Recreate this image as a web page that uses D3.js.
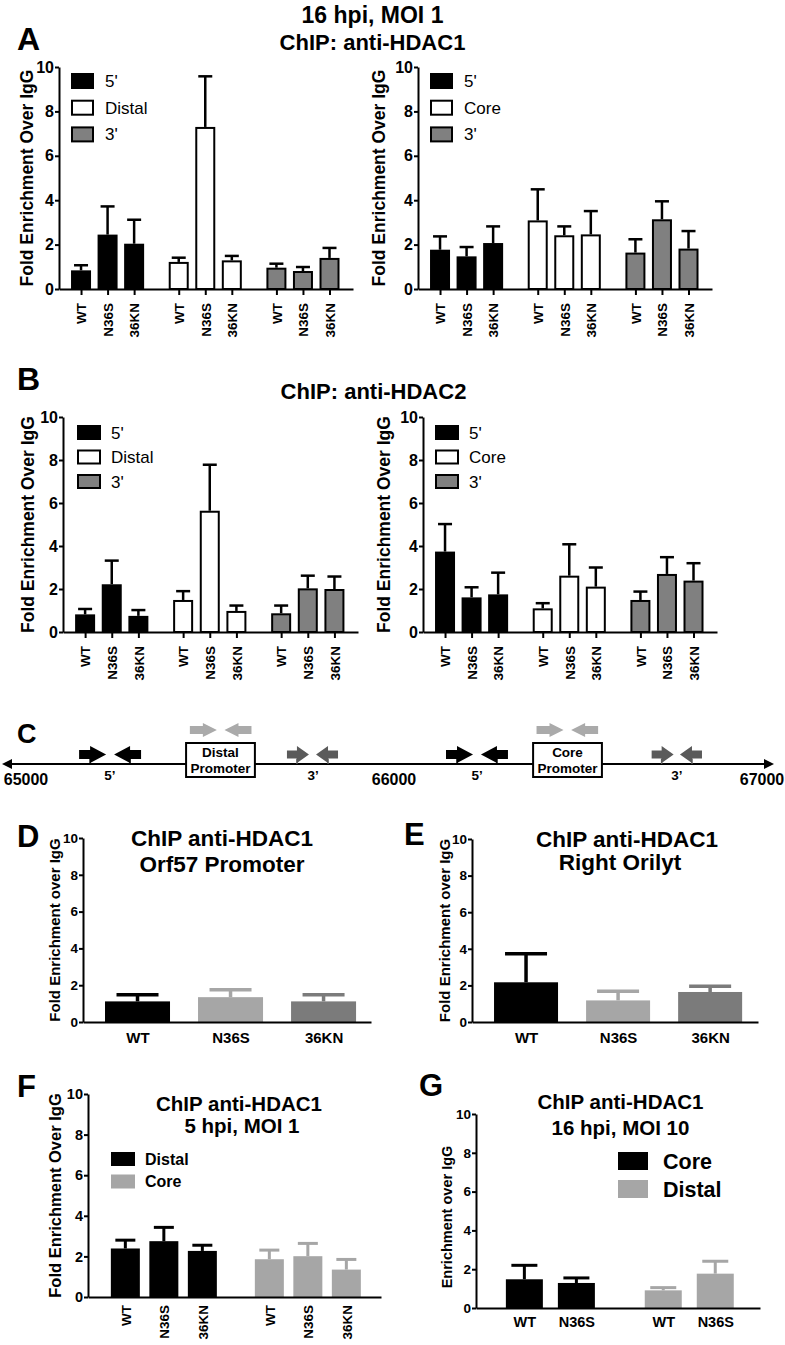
<!DOCTYPE html>
<html><head><meta charset="utf-8">
<script src="https://cdn.jsdelivr.net/npm/d3@7"></script>
<style>
body{margin:0;background:#fff}
svg{display:block;font-family:"Liberation Sans",Arial,Helvetica,sans-serif}
</style></head><body>
<svg id="fig" width="785" height="1345"></svg>
<script>
// ---------------- DATA ----------------
const mutants3 = ["WT", "N36S", "36KN"];
const mutants2 = ["WT", "N36S"];
const yTicks = [0, 2, 4, 6, 8, 10];

// Panel A: ChIP anti-HDAC1, 16 hpi MOI 1
const aLeftSeries = ["5'", "Distal", "3'"];
const aLeftMeans = [[0.84, 2.45, 2.04], [1.22, 7.30, 1.29], [0.96, 0.81, 1.40]];
const aLeftErr   = [[0.23, 1.27, 1.08], [0.19, 2.28, 0.20], [0.18, 0.18, 0.45]];
const aRightSeries = ["5'", "Core", "3'"];
const aRightMeans = [[1.77, 1.47, 2.07], [3.09, 2.42, 2.46], [1.64, 3.14, 1.82]];
const aRightErr   = [[0.60, 0.42, 0.75], [1.40, 0.40, 1.05], [0.60, 0.81, 0.79]];

// Panel B: ChIP anti-HDAC2
const bLeftSeries = ["5'", "Distal", "3'"];
const bLeftMeans = [[0.82, 2.22, 0.75], [1.49, 5.64, 0.98], [0.87, 2.03, 2.00]];
const bLeftErr   = [[0.25, 1.10, 0.27], [0.41, 2.14, 0.25], [0.36, 0.59, 0.58]];
const bRightSeries = ["5'", "Core", "3'"];
const bRightMeans = [[3.74, 1.61, 1.75], [1.10, 2.62, 2.11], [1.49, 2.70, 2.39]];
const bRightErr   = [[1.28, 0.47, 1.01], [0.24, 1.46, 0.89], [0.39, 0.78, 0.81]];

// Panel C: genome map
const cTicks = [65000, 66000, 67000];
const cPrimerBp   = [65181, 65276, 65482, 65576, 65739, 65818, 66178, 66273, 66424, 66518, 66730, 66807];
const cPrimerDir  = [1, -1, 1, -1, 1, -1, 1, -1, 1, -1, 1, -1];
const cPrimerKind = ["5", "5", "p", "p", "3", "3", "5", "5", "p", "p", "3", "3"];
const cBoxStart = [65435, 66378];
const cBoxEnd   = [65622, 66565];
const cBoxText  = [["Distal", "Promoter"], ["Core", "Promoter"]];
const cRegionBp   = [65228, 65780, 66226, 66769];
const cRegionText = ["5\u2019", "3\u2019", "5\u2019", "3\u2019"];

// Panel D: Orf57 promoter
const dMeans = [[1.12, 1.35, 1.12]];
const dErr   = [[0.36, 0.40, 0.36]];
// Panel E: Right Orilyt
const eMeans = [[2.17, 1.18, 1.64]];
const eErr   = [[1.56, 0.50, 0.31]];
// Panel F: 5 hpi, MOI 1
const fSeries = ["Distal", "Core"];
const fMeans = [[2.39, 2.75, 2.27], [1.86, 2.01, 1.35]];
const fErr   = [[0.41, 0.68, 0.28], [0.45, 0.63, 0.50]];
// Panel G: 16 hpi, MOI 10
const gSeries = ["Core", "Distal"];
const gMeans = [[1.48, 1.29], [0.91, 1.77]];
const gErr   = [[0.72, 0.26], [0.14, 0.64]];

// ---------------- DRAWING ----------------
const svg = d3.select("#fig");
const BLACK = "#000", WHITE = "#fff", MID = "#808080", LIGHT = "#a6a6a6", DARK = "#7b7b7b";

function text(x, y, s, size, opts = {}) {
  const t = svg.append("text").attr("x", x).attr("y", y).text(s)
    .attr("font-size", size).attr("font-weight", opts.weight || "bold")
    .attr("text-anchor", opts.anchor || "start").attr("fill", opts.fill || "#000");
  if (opts.rotate) t.attr("transform", `rotate(-90,${x},${y})`);
  return t;
}

function barPanel(p) {
  const g = svg.append("g");
  const nG = p.means.length, nPer = p.means[0].length;
  const items = [];
  for (let gi = 0; gi < nG; gi++)
    for (let i = 0; i < nPer; i++)
      items.push({ gi, i, s: gi * (nPer + p.gap) + i, v: p.means[gi][i], e: p.errs[gi][i],
        fill: p.barFills ? p.barFills[i] : p.fills[gi], label: p.cats[i] });
  const last = (nG - 1) * (nPer + p.gap) + nPer - 1;
  const x = d3.scaleLinear().domain([-p.padL, last + p.padR]).range([p.x0, p.x1]);
  const y = d3.scaleLinear().domain([0, 10]).range([p.yBot, p.yTop]);
  const bw = p.barW;

  g.selectAll("rect.bar").data(items).join("rect").attr("class", "bar")
    .attr("x", d => x(d.s) - (p.outlined ? (bw - 2) / 2 : bw / 2))
    .attr("width", p.outlined ? bw - 2 : bw)
    .attr("y", d => y(d.v) + (p.outlined ? 1 : 0))
    .attr("height", d => y(0) - y(d.v) - (p.outlined ? 1 : 0))
    .attr("fill", d => d.fill)
    .attr("stroke", p.outlined ? BLACK : "none")
    .attr("stroke-width", 2);

  const eb = g.selectAll("g.err").data(items).join("g").attr("class", "err");
  const ecol = d => p.outlined ? BLACK : d.fill;
  eb.append("line").attr("x1", d => x(d.s)).attr("x2", d => x(d.s))
    .attr("y1", d => y(d.v)).attr("y2", d => y(d.v + d.e))
    .attr("stroke", ecol).attr("stroke-width", p.errW);
  eb.append("line").attr("x1", d => x(d.s) - p.capW / 2).attr("x2", d => x(d.s) + p.capW / 2)
    .attr("y1", d => y(d.v + d.e)).attr("y2", d => y(d.v + d.e))
    .attr("stroke", ecol).attr("stroke-width", p.errW);

  const ya = g.append("g").attr("transform", `translate(${p.x0},0)`)
    .call(d3.axisLeft(y).tickValues(yTicks).tickSize(4).tickSizeOuter(0).tickPadding(1));
  ya.select(".domain").attr("stroke-width", 2);
  ya.selectAll(".tick line").attr("stroke-width", 2);
  ya.selectAll("text").attr("font-size", p.yTickSize).attr("font-weight", "bold")
    .attr("font-family", "Liberation Sans, Arial, sans-serif").attr("fill", "#000");

  const xa = g.append("g").attr("transform", `translate(0,${p.yBot})`)
    .call(d3.axisBottom(x).tickValues(items.map(d => d.s)).tickFormat((s, k) => items[k].label)
      .tickSize(p.xTick).tickSizeOuter(0));
  xa.select(".domain").attr("stroke-width", 2);
  xa.selectAll(".tick line").attr("stroke-width", 2);
  const xt = xa.selectAll("text").attr("font-size", p.xLabSize).attr("font-weight", "bold")
    .attr("font-family", "Liberation Sans, Arial, sans-serif").attr("fill", "#000");
  if (p.rotate) {
    xt.attr("transform", "rotate(-90)").attr("x", -p.xLabOff).attr("y", 0)
      .attr("dy", "0.35em").attr("text-anchor", "end");
  } else {
    xt.attr("y", p.xLabOff).attr("dy", "0.71em");
  }

  text(p.yLabX, (p.yTop + p.yBot) / 2 + (p.yLabShift || 0), p.yLabel, p.yLabSize, { anchor: "middle", rotate: true });

  if (p.legend) {
    const L = p.legend;
    L.names.forEach((nm, k) => {
      const cy = L.y0 + k * L.dy;
      svg.append("rect").attr("x", L.x + (L.outlined ? 1 : 0)).attr("y", cy - L.h / 2 + (L.outlined ? 1 : 0))
        .attr("width", L.w - (L.outlined ? 2 : 0)).attr("height", L.h - (L.outlined ? 2 : 0))
        .attr("fill", L.fills[k]).attr("stroke", L.outlined ? BLACK : "none").attr("stroke-width", 2);
      text(L.tx, cy + L.base, nm, L.size, { weight: L.weight });
    });
  }
  return { x, y };
}

const seriesFillsABC = [BLACK, WHITE, MID];

// ---- Titles ----
text(372.5, 23, "16 hpi, MOI 1", 23, { anchor: "middle" });
text(372.5, 50, "ChIP: anti-HDAC1", 22, { anchor: "middle" });
text(17, 50, "A", 32);
text(373.5, 399, "ChIP: anti-HDAC2", 22, { anchor: "middle" });
text(17, 390, "B", 32);

const abCommon = { gap: 0.68, padL: 0.83, padR: 0.885, barW: 20, outlined: true, errW: 2.5, capW: 14,
  yTickSize: 16, xTick: 6, xLabSize: 13.5, rotate: true, xLabOff: 14,
  yLabel: "Fold Enrichment Over IgG", yLabSize: 17.5, cats: mutants3, fills: seriesFillsABC };

barPanel(Object.assign({}, abCommon, { x0: 59, x1: 353, yTop: 67, yBot: 289,
  means: aLeftMeans, errs: aLeftErr, yLabX: 32.5,
  legend: { names: aLeftSeries, fills: seriesFillsABC, outlined: true, x: 71, w: 23, h: 16, y0: 81, dy: 26.7,
    tx: 105, base: 6, size: 17, weight: "normal" } }));
barPanel(Object.assign({}, abCommon, { x0: 418, x1: 712, yTop: 67, yBot: 289,
  means: aRightMeans, errs: aRightErr, yLabX: 385,
  legend: { names: aRightSeries, fills: seriesFillsABC, outlined: true, x: 430, w: 23, h: 16, y0: 81, dy: 26.7,
    tx: 464, base: 6, size: 17, weight: "normal" } }));
barPanel(Object.assign({}, abCommon, { x0: 63, x1: 358, yTop: 417, yBot: 632,
  means: bLeftMeans, errs: bLeftErr, yLabX: 34,
  legend: { names: bLeftSeries, fills: seriesFillsABC, outlined: true, x: 77, w: 24, h: 15, y0: 432.5, dy: 24.5,
    tx: 111, base: 6, size: 17, weight: "normal" } }));
barPanel(Object.assign({}, abCommon, { x0: 423, x1: 717, yTop: 417, yBot: 632,
  means: bRightMeans, errs: bRightErr, yLabX: 390,
  legend: { names: bRightSeries, fills: seriesFillsABC, outlined: true, x: 435, w: 24, h: 15, y0: 432.5, dy: 24.5,
    tx: 469, base: 6, size: 17, weight: "normal" } }));

// ---- Panel C ----
text(17, 743, "C", 27);
const cx = d3.scaleLinear().domain([65000, 67000]).range([26, 762]);
const cLineY = 764;
svg.append("line").attr("x1", 4).attr("x2", 771).attr("y1", cLineY).attr("y2", cLineY)
  .attr("stroke", BLACK).attr("stroke-width", 2);
svg.append("path").attr("d", `M2,${cLineY} L12,${cLineY - 5} L12,${cLineY + 5} Z`).attr("fill", BLACK);
svg.append("path").attr("d", `M774,${cLineY} L764,${cLineY - 5} L764,${cLineY + 5} Z`).attr("fill", BLACK);
cTicks.forEach(t => text(cx(t), 785, String(t), 16, { anchor: "middle" }));

const primerStyle = {
  "5": { fill: BLACK, cy: 754.5, L: 27, s: 11, H: 17, h: 9 },
  "p": { fill: "#aaaaaa", cy: 730, L: 27, s: 13, H: 14, h: 8 },
  "3": { fill: "#5a5a5a", cy: 754.5, L: 22, s: 10, H: 17, h: 8 }
};
function arrowPath(c, dir, st) {
  const pts = [[-st.L / 2, -st.h / 2], [-st.L / 2 + st.s, -st.h / 2], [-st.L / 2 + st.s, -st.H / 2], [st.L / 2, 0],
    [-st.L / 2 + st.s, st.H / 2], [-st.L / 2 + st.s, st.h / 2], [-st.L / 2, st.h / 2]];
  return "M" + pts.map(p => `${c + dir * p[0]},${st.cy + p[1]}`).join("L") + "Z";
}
cPrimerBp.forEach((bp, k) => {
  const st = primerStyle[cPrimerKind[k]];
  svg.append("path").attr("d", arrowPath(cx(bp), cPrimerDir[k], st)).attr("fill", st.fill);
  if (cPrimerKind[k] !== "p") {
    const sx = cx(bp) - cPrimerDir[k] * (st.L / 2 - st.s);
    svg.append("line").attr("x1", sx).attr("x2", sx).attr("y1", st.cy + st.h / 2).attr("y2", cLineY)
      .attr("stroke", st.fill).attr("stroke-width", 1.5);
  }
});
cBoxStart.forEach((b, k) => {
  svg.append("rect").attr("x", cx(b)).attr("y", 743).attr("width", cx(cBoxEnd[k]) - cx(b)).attr("height", 34)
    .attr("fill", WHITE).attr("stroke", BLACK).attr("stroke-width", 2);
  const mid = (cx(b) + cx(cBoxEnd[k])) / 2;
  text(mid, 757, cBoxText[k][0], 13.5, { anchor: "middle" });
  text(mid, 773, cBoxText[k][1], 13.5, { anchor: "middle" });
});
cRegionBp.forEach((bp, k) => text(cx(bp), 780, cRegionText[k], 13.5, { anchor: "middle" }));

// ---- Panel D ----
text(17, 847, "D", 31);
text(222, 846, "ChIP anti-HDAC1", 22.5, { anchor: "middle" });
text(222, 872, "Orf57 Promoter", 22.5, { anchor: "middle" });
barPanel({ x0: 83, x1: 371, yTop: 838, yBot: 1022, gap: 0, padL: 0.586, padR: 0.51, barW: 65,
  outlined: false, errW: 3.5, capW: 42, yTickSize: 13.5, xTick: 0, xLabSize: 15, rotate: false, xLabOff: 10,
  yLabel: "Fold Enrichment over IgG", yLabSize: 15, yLabX: 60, cats: mutants3,
  barFills: [BLACK, LIGHT, DARK], means: dMeans, errs: dErr });

// ---- Panel E ----
text(404, 845, "E", 31);
text(627, 847, "ChIP anti-HDAC1", 22.5, { anchor: "middle" });
text(620, 870, "Right Orilyt", 22.5, { anchor: "middle" });
barPanel({ x0: 472, x1: 758, yTop: 839, yBot: 1022, gap: 0, padL: 0.587, padR: 0.52, barW: 64,
  outlined: false, errW: 3.5, capW: 42, yTickSize: 13.5, xTick: 0, xLabSize: 15, rotate: false, xLabOff: 10,
  yLabel: "Fold Enrichment over IgG", yLabSize: 15, yLabX: 450, cats: mutants3,
  barFills: [BLACK, LIGHT, DARK], means: eMeans, errs: eErr });

// ---- Panel F ----
text(17, 1097, "F", 31);
text(239, 1111, "ChIP anti-HDAC1", 20.5, { anchor: "middle" });
text(242, 1133, "5 hpi, MOI 1", 20.5, { anchor: "middle" });
barPanel({ x0: 88, x1: 381, yTop: 1094, yBot: 1297, gap: 0.74, padL: 0.97, padR: 0.9, barW: 29,
  outlined: false, errW: 3, capW: 20, yTickSize: 14.5, xTick: 0, xLabSize: 13.5, rotate: true, xLabOff: 8,
  yLabel: "Fold Enrichment Over IgG", yLabSize: 16.5, yLabX: 61, cats: mutants3,
  fills: [BLACK, LIGHT], means: fMeans, errs: fErr,
  legend: { names: fSeries, fills: [BLACK, LIGHT], outlined: false, x: 111, w: 24, h: 14, y0: 1159, dy: 22.5,
    tx: 145, base: 5.5, size: 16, weight: "bold" } });

// ---- Panel G ----
text(419, 1096, "G", 31);
text(620.5, 1109, "ChIP anti-HDAC1", 20.5, { anchor: "middle" });
text(620.5, 1135, "16 hpi, MOI 10", 20.5, { anchor: "middle" });
barPanel({ x0: 476, x1: 760, yTop: 1114, yBot: 1308, gap: 0.67, padL: 0.93, padR: 0.86, barW: 37,
  outlined: false, errW: 3, capW: 26, yTickSize: 13.5, xTick: 0, xLabSize: 14.5, rotate: false, xLabOff: 9,
  yLabel: "Enrichment over IgG", yLabSize: 14.5, yLabX: 452, yLabShift: 6, cats: mutants2,
  fills: [BLACK, LIGHT], means: gMeans, errs: gErr,
  legend: { names: gSeries, fills: [BLACK, LIGHT], outlined: false, x: 618, w: 30, h: 18, y0: 1161, dy: 28,
    tx: 663, base: 7.5, size: 21.5, weight: "bold" } });
</script>
</body></html>
